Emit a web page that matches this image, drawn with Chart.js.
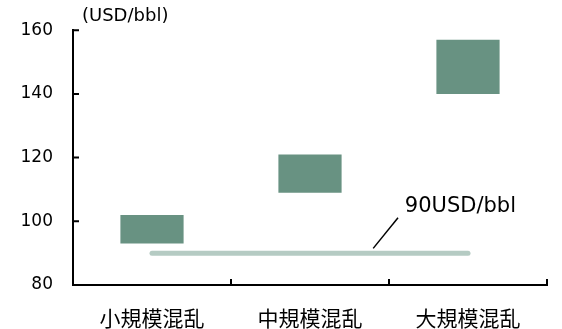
<!DOCTYPE html>
<html>
<head>
<meta charset="utf-8">
<script src="https://cdn.jsdelivr.net/npm/chart.js"></script>
<style>
  html, body { margin: 0; padding: 0; background: #fff; }
  #wrap { width: 562px; height: 329px; }
</style>
</head>
<body>
<div id="wrap"><canvas id="oilChart"></canvas></div>
<script>
// categories and values
const categories = ['小規模混乱', '中規模混乱', '大規模混乱'];
const rangeLow = [93, 109, 140];
const rangeHigh = [102, 121, 157];
const baseline = [90, 90, 90];
const yTicks = [80, 100, 120, 140, 160];
const unitLabel = '(USD/bbl)';
const baselineLabel = '90USD/bbl';

const barColor = '#689282';
const lineColor = '#b5cbc3';
const latin = "'DejaVu Sans', Verdana, sans-serif";
const cjk = "'Noto Sans CJK JP', sans-serif";

// axis ticks pointing inward, unit text and leader label
const decorations = {
    id: 'decorations',
    afterDraw(chart) {
        const ctx = chart.ctx;
        const area = chart.chartArea;
        const x = chart.scales.x;
        const y = chart.scales.y;
        ctx.save();
        ctx.strokeStyle = '#000';
        ctx.lineWidth = 2;
        ctx.beginPath();
        yTicks.forEach(v => {
            const py = y.getPixelForValue(v);
            ctx.moveTo(area.left, py);
            ctx.lineTo(area.left + 6, py);
        });
        for (let i = 1; i <= categories.length; i++) {
            const px = x.getPixelForValue(i - 0.5);
            ctx.moveTo(px, area.bottom);
            ctx.lineTo(px, area.bottom - 6);
        }
        ctx.stroke();

        // leader line to the 90 line
        ctx.lineWidth = 1.5;
        ctx.beginPath();
        ctx.moveTo(x.getPixelForValue(1.40), y.getPixelForValue(91.5));
        ctx.lineTo(x.getPixelForValue(1.557), y.getPixelForValue(101.1));
        ctx.stroke();

        ctx.fillStyle = '#000';
        ctx.textBaseline = 'middle';
        ctx.textAlign = 'left';
        ctx.font = '21px ' + latin;
        ctx.fillText(baselineLabel, x.getPixelForValue(1.6), y.getPixelForValue(104.5));

        ctx.font = '18px ' + latin;
        ctx.fillText(unitLabel, area.left + 9, 16);
        ctx.restore();
    }
};

const ctx = document.getElementById('oilChart').getContext('2d');
new Chart(ctx, {
    data: {
        labels: categories,
        datasets: [{
            type: 'bar',
            data: rangeLow.map((lo, i) => [lo, rangeHigh[i]]),
            backgroundColor: barColor,
            borderWidth: 0,
            barPercentage: 0.4,
            categoryPercentage: 1,
            order: 1
        }, {
            type: 'line',
            data: baseline,
            borderColor: lineColor,
            borderWidth: 5,
            borderCapStyle: 'round',
            pointRadius: 0,
            fill: false,
            order: 2
        }]
    },
    options: {
        responsive: true,
        maintainAspectRatio: false,
        animation: false,
        layout: { padding: { top: 27, right: 15, left: 0, bottom: 0 } },
        plugins: { legend: { display: false }, tooltip: { enabled: false } },
        scales: {
            x: {
                offset: true,
                grid: { display: false, drawTicks: false },
                border: { display: true, color: '#000', width: 2 },
                ticks: { color: '#000', padding: 20, font: { family: cjk, size: 21 } },
                afterFit(scale) { scale.height = 44; }
            },
            y: {
                min: 80,
                max: 160,
                grid: { display: false, drawTicks: false },
                border: { display: true, color: '#000', width: 2 },
                ticks: {
                    color: '#000',
                    stepSize: 20,
                    padding: 20,
                    font: { family: latin, size: 17 }
                },
                afterFit(scale) { scale.width = 73; }
            }
        }
    },
    plugins: [decorations]
});
</script>
</body>
</html>
